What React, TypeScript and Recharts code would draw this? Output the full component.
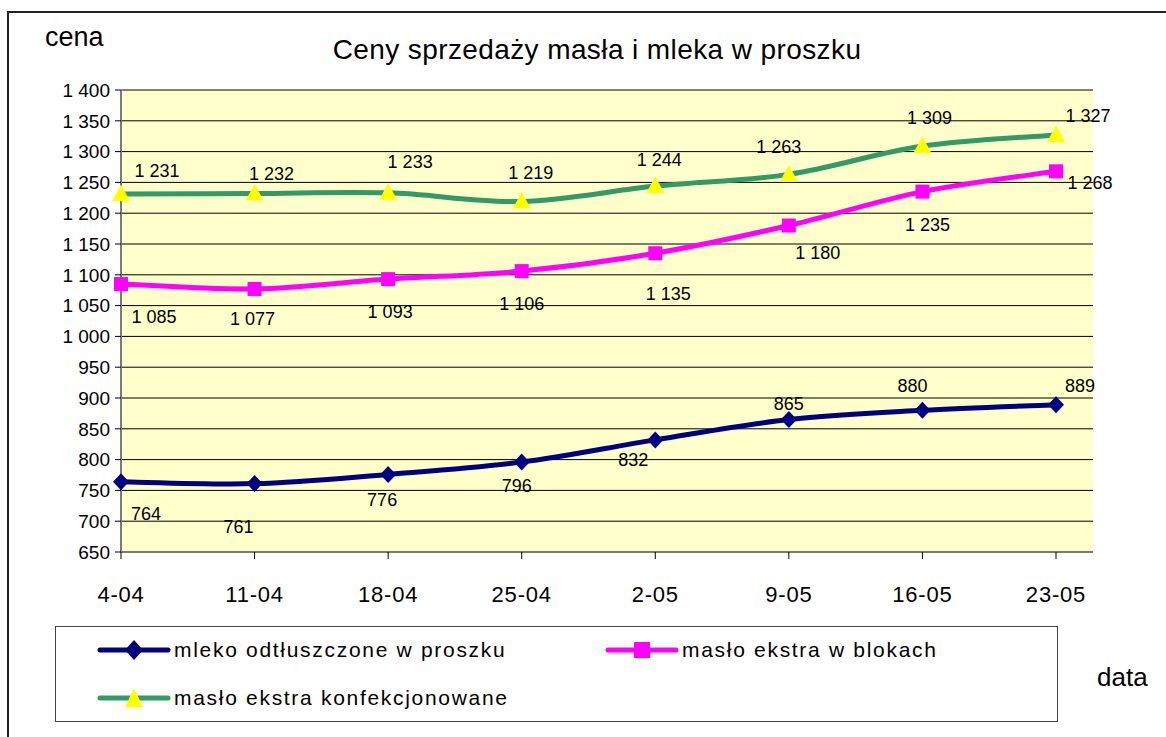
import React from 'react';
import { LineChart, Line, XAxis, YAxis, CartesianGrid, LabelList, Legend } from 'recharts';

const DATES = ['4-04', '11-04', '18-04', '25-04', '2-05', '9-05', '16-05', '23-05'];
const MLEKO = [764, 761, 776, 796, 832, 865, 880, 889];
const MASLO_BLOK = [1085, 1077, 1093, 1106, 1135, 1180, 1235, 1268];
const MASLO_KONF = [1231, 1232, 1233, 1219, 1244, 1263, 1309, 1327];
const Y_TICKS = [650, 700, 750, 800, 850, 900, 950, 1000, 1050, 1100, 1150, 1200, 1250, 1300, 1350, 1400];

const SERIES_NAMES = {
  mleko: 'mleko odtłuszczone w proszku',
  blok: 'masło ekstra w blokach',
  konf: 'masło ekstra konfekcjonowane',
};

// label nudges relative to each marker (dx, dy)
const NUDGE_MLEKO = [[25, 32], [-16, 43], [-6, 26], [-5, 24], [-22, 20], [0, -16], [-10, -24], [24, -19]];
const NUDGE_BLOK = [[33, 33], [-2, 30], [2, 33], [0, 33], [13, 41], [29, 27], [5, 33], [34, 12]];
const NUDGE_KONF = [[36, -23], [17, -19], [22, -31], [9, -28], [4, -26], [-10, -27], [7, -28], [32, -19]];

const data = DATES.map((d, i) => ({ date: d, mleko: MLEKO[i], blok: MASLO_BLOK[i], konf: MASLO_KONF[i] }));

const FONT = 'Arial, "Liberation Sans", sans-serif';
const NAVY = '#000080';
const PINK = '#FF00FF';
const GREEN = '#339966';
const YELLOW = '#FFFF00';
const FRAME = '#7a7a7a';

const fmt = (n: number) => {
  if (n >= 1000) {
    const r = n % 1000;
    return `${Math.floor(n / 1000)} ${String(r).padStart(3, '0')}`;
  }
  return String(n);
};

// Excel-like smoothed line (Catmull-Rom style bezier)
const excelSmooth = (context: any) => {
  let pts: number[][] = [];
  return {
    areaStart() {},
    areaEnd() {},
    lineStart() {
      pts = [];
    },
    point(x: number, y: number) {
      pts.push([+x, +y]);
    },
    lineEnd() {
      if (!pts.length) return;
      context.moveTo(pts[0][0], pts[0][1]);
      for (let i = 0; i < pts.length - 1; i++) {
        const p0 = pts[i - 1] || pts[i];
        const p1 = pts[i];
        const p2 = pts[i + 1];
        const p3 = pts[i + 2] || p2;
        context.bezierCurveTo(
          p1[0] + (p2[0] - p0[0]) / 6,
          p1[1] + (p2[1] - p0[1]) / 6,
          p2[0] - (p3[0] - p1[0]) / 6,
          p2[1] - (p3[1] - p1[1]) / 6,
          p2[0],
          p2[1]
        );
      }
    },
  };
};

const diamondDot = (p: any) => {
  const { cx, cy, index } = p;
  return <path key={`dm${index}`} d={`M${cx},${cy - 8.5}L${cx + 8},${cy}L${cx},${cy + 8.5}L${cx - 8},${cy}Z`} fill={NAVY} />;
};
const squareDot = (p: any) => {
  const { cx, cy, index } = p;
  return <rect key={`sq${index}`} x={cx - 7} y={cy - 7} width={14} height={14} fill={PINK} />;
};
const triangleDot = (p: any) => {
  const { cx, cy, index } = p;
  return <path key={`tr${index}`} d={`M${cx},${cy - 9.5}L${cx + 9},${cy + 7}L${cx - 9},${cy + 7}Z`} fill={YELLOW} />;
};

const makeLabel = (nudges: number[][]) => (props: any) => {
  const { x, y, value, index } = props;
  const n = nudges[index] || [0, 0];
  return (
    <text
      key={`lb${index}`}
      x={x + n[0]}
      y={y + n[1]}
      textAnchor="middle"
      dominantBaseline="central"
      fontFamily={FONT}
      fontSize={18}
      fill="#000"
    >
      {fmt(value)}
    </text>
  );
};

const XTick = (props: any) => {
  const { x, y, payload } = props;
  return (
    <text
      x={x}
      y={y + 25}
      dy="0.71em"
      textAnchor="middle"
      fontFamily={FONT}
      fontSize={22}
      style={{ letterSpacing: '0.8px' }}
      fill="#000"
    >
      {payload.value}
    </text>
  );
};

const LegendIcon = ({ color, kind }: { color: string; kind: string }) => (
  <svg width={74} height={26} style={{ position: 'absolute', left: 0, top: 0 }}>
    <line x1={3} y1={13} x2={71} y2={13} stroke={color} strokeWidth={5} strokeLinecap="round" />
    {kind === 'diamond' && <path d="M37,3L46,13L37,23L28,13Z" fill={NAVY} />}
    {kind === 'square' && <rect x={29} y={5} width={16} height={16} fill={PINK} />}
    {kind === 'triangle' && <path d="M37,3L46,22L28,22Z" fill={YELLOW} />}
  </svg>
);

const LEGEND_ITEMS = [
  { key: 'mleko', color: NAVY, kind: 'diamond', left: 41, top: 10 },
  { key: 'blok', color: PINK, kind: 'square', left: 549, top: 10 },
  { key: 'konf', color: GREEN, kind: 'triangle', left: 41, top: 58 },
];

const LegendContent = () => (
  <div
    style={{
      position: 'relative',
      width: 1003,
      height: 96,
      border: '1.5px solid #444',
      boxSizing: 'border-box',
      background: '#fff',
      fontFamily: FONT,
    }}
  >
    {LEGEND_ITEMS.map((it) => (
      <div key={it.key} style={{ position: 'absolute', left: it.left, top: it.top, height: 26, width: 460 }}>
        <LegendIcon color={it.color} kind={it.kind} />
        <span
          style={{
            position: 'absolute',
            left: 77,
            top: 0,
            lineHeight: '26px',
            fontSize: 21,
            letterSpacing: '1.7px',
            whiteSpace: 'nowrap',
            color: '#000',
          }}
        >
          {(SERIES_NAMES as any)[it.key]}
        </span>
      </div>
    ))}
  </div>
);

export default function App() {
  return (
    <div
      style={{
        position: 'absolute',
        left: 0,
        top: 0,
        width: 1166,
        height: 737,
        overflow: 'hidden',
        background: '#fff',
        fontFamily: FONT,
      }}
    >
      <div
        style={{
          position: 'absolute',
          left: 7,
          top: 11,
          width: 1300,
          height: 900,
          border: '2px solid #222',
          boxSizing: 'border-box',
        }}
      />
      <div
        style={{
          position: 'absolute',
          left: 597,
          top: 36,
          transform: 'translateX(-50%)',
          fontSize: 28,
          lineHeight: '28px',
          letterSpacing: '0.4px',
          whiteSpace: 'nowrap',
          color: '#000',
        }}
      >
        Ceny sprzedaży masła i mleka w proszku
      </div>
      <div style={{ position: 'absolute', left: 45, top: 24, fontSize: 27, lineHeight: '27px', color: '#000' }}>cena</div>
      <div style={{ position: 'absolute', left: 1097, top: 664, fontSize: 26, lineHeight: '26px', color: '#000' }}>data</div>
      <div style={{ position: 'absolute', left: 0, top: 0 }}>
        <LineChart width={1166} height={737} data={data} margin={{ top: 90, right: 73, bottom: 155, left: 61 }}>
          <CartesianGrid vertical={false} stroke="#000" strokeWidth={1} fill="#FFFFCC" />
          <XAxis
            dataKey="date"
            type="category"
            height={30}
            padding={{ left: 0, right: 37 }}
            axisLine={{ stroke: FRAME, strokeWidth: 2 }}
            tickLine={{ stroke: '#000', strokeWidth: 1 }}
            tickSize={7}
            tick={<XTick />}
            interval={0}
          />
          <XAxis
            xAxisId="top"
            dataKey="date"
            orientation="top"
            height={0}
            padding={{ left: 0, right: 37 }}
            axisLine={{ stroke: FRAME, strokeWidth: 2 }}
            tickLine={false}
            tick={false}
          />
          <YAxis
            width={60}
            domain={[650, 1400]}
            ticks={Y_TICKS}
            interval={0}
            tickFormatter={fmt}
            axisLine={{ stroke: FRAME, strokeWidth: 2 }}
            tickLine={{ stroke: '#000', strokeWidth: 1 }}
            tickSize={6}
            tickMargin={5}
            tick={{ fontFamily: FONT, fontSize: 19, fill: '#000' }}
            allowDataOverflow
          />
          <YAxis
            yAxisId="right"
            orientation="right"
            width={0}
            domain={[650, 1400]}
            axisLine={{ stroke: FRAME, strokeWidth: 2 }}
            tickLine={false}
            tick={false}
          />
          <Line
            dataKey="konf"
            name={SERIES_NAMES.konf}
            type={excelSmooth as any}
            stroke={GREEN}
            strokeWidth={5}
            dot={triangleDot}
            activeDot={false}
            isAnimationActive={false}
          >
            <LabelList dataKey="konf" content={makeLabel(NUDGE_KONF)} />
          </Line>
          <Line
            dataKey="blok"
            name={SERIES_NAMES.blok}
            type={excelSmooth as any}
            stroke={PINK}
            strokeWidth={5}
            dot={squareDot}
            activeDot={false}
            isAnimationActive={false}
          >
            <LabelList dataKey="blok" content={makeLabel(NUDGE_BLOK)} />
          </Line>
          <Line
            dataKey="mleko"
            name={SERIES_NAMES.mleko}
            type={excelSmooth as any}
            stroke={NAVY}
            strokeWidth={5}
            dot={diamondDot}
            activeDot={false}
            isAnimationActive={false}
          >
            <LabelList dataKey="mleko" content={makeLabel(NUDGE_MLEKO)} />
          </Line>
          <Legend
            layout="vertical"
            verticalAlign="middle"
            align="center"
            content={<LegendContent />}
            wrapperStyle={{ position: 'absolute', left: 55, top: 626, width: 1003, height: 96 }}
          />
        </LineChart>
      </div>
    </div>
  );
}
